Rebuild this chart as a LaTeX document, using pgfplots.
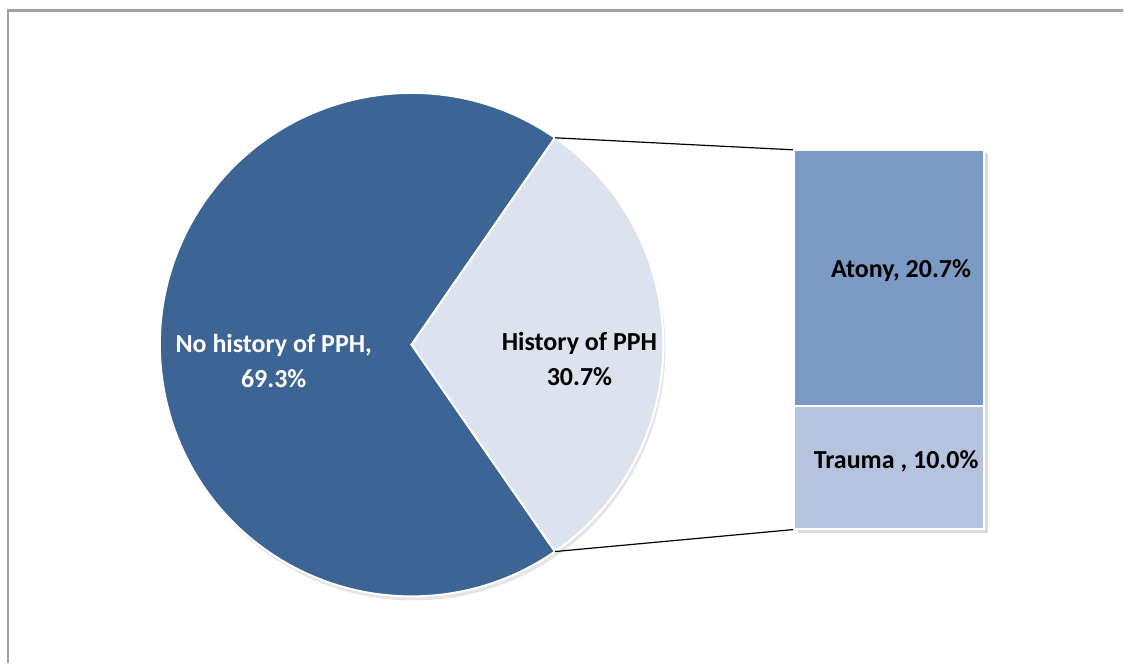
\documentclass[border=0pt]{standalone}
\usepackage{pgfplots}
\pgfplotsset{compat=1.18}
\usepackage{fontspec}
\setmainfont{Carlito}
\definecolor{darkslice}{HTML}{3C6595}
\definecolor{lightslice}{HTML}{DCE2EE}
\definecolor{atony}{HTML}{7B9AC6}
\definecolor{trauma}{HTML}{B4C3DE}
\definecolor{framec}{HTML}{A0A0A0}
\begin{document}
\begin{tikzpicture}
\begin{axis}[name=main, at={(0,0)}, anchor=south west,
  width=562pt, height=332pt, scale only axis,
  xmin=0, xmax=1124, ymin=0, ymax=664, y dir=reverse,
  hide axis, clip=false]
% full canvas
\path (axis cs:0,0) rectangle (axis cs:1124,664);
% frame (top and left only)
\addplot[framec, line width=1.1pt] coordinates {(1124,10.5) (8,10.5) (8,664)};
% pie: shares
\pgfmathsetmacro{\hist}{30.7}
\pgfmathsetmacro{\nohist}{69.3}
\pgfmathsetmacro{\half}{\hist*3.6/2}
\pgfmathsetmacro{\endang}{\half+\nohist*3.6}
% faint shadows
\fill[black!10] (axis cs:414,349) circle[radius=126pt];
\fill[black!14] (axis cs:799,153) rectangle (axis cs:989,534);
\fill[darkslice, draw=white, line width=1pt] (axis cs:412,345) -- ++(\half:126pt)
   arc[start angle=\half, end angle=\endang, radius=126pt] -- cycle;
\fill[lightslice, draw=white, line width=1pt] (axis cs:412,345) -- ++(-\half:126pt)
   arc[start angle=-\half, end angle=\half, radius=126pt] -- cycle;
% connectors
\draw[black, line width=0.6pt] (axis cs:412,345) ++(\half:126pt) -- (axis cs:795,150);
\draw[black, line width=0.6pt] (axis cs:412,345) ++(-\half:126pt) -- (axis cs:795,530);
% labels
\node[align=center, text=white, font=\bfseries\fontsize{13}{17.5}\selectfont]
  at (axis cs:274,361) {No history of PPH,\\69.3\%};
\node[align=center, text=black, font=\bfseries\fontsize{13}{17.5}\selectfont]
  at (axis cs:580,359) {History of PPH\\30.7\%};
\end{axis}
\begin{axis}[at={(397.5pt,67pt)}, anchor=south west,
  width=95pt, height=190pt, scale only axis,
  xmin=-0.5, xmax=0.5, ymin=0, ymax=30.7,
  hide axis, clip=false, ybar stacked, bar width=95pt]
\addplot[fill=trauma, draw=white, line width=1pt] coordinates {(0,10.0)};
\addplot[fill=atony, draw=white, line width=1pt] coordinates {(0,20.7)};
\end{axis}
\begin{axis}[at={(0,0)}, anchor=south west,
  width=562pt, height=332pt, scale only axis,
  xmin=0, xmax=1124, ymin=0, ymax=664, y dir=reverse,
  hide axis, clip=false]
\node[font=\bfseries\fontsize{13}{15}\selectfont, text=black] at (axis cs:902,271) {Atony, 20.7\%};
\node[font=\bfseries\fontsize{13}{15}\selectfont, text=black] at (axis cs:897,462) {Trauma , 10.0\%};
\end{axis}
\end{tikzpicture}
\end{document}
